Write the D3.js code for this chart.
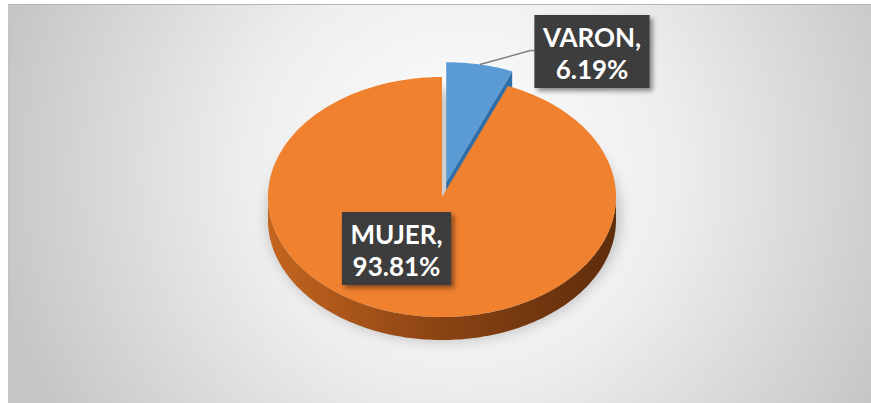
<!DOCTYPE html>
<html>
<head>
<meta charset="utf-8">
<script src="https://cdn.jsdelivr.net/npm/d3@7"></script>
<style>
  html, body { margin: 0; padding: 0; background: #fff; }
  svg { display: block; }
</style>
</head>
<body>
<div id="chart"></div>
<script>
// 数据
const categories = ["VARON", "MUJER"];
const values = [6.19, 93.81];
const sliceColors = ["#5b9bd5", "#f0812f"];
const sideColors = ["#2f6ea8", "#8a4313"];

const W = 871, H = 403;

// 饼图几何 (3D 椭圆)
const cx = 442, cy = 197, rx = 174, ry = 120, depth = 23;
const explode = 0.125;

const svg = d3.select("#chart").append("svg")
  .attr("width", W)
  .attr("height", H);

const defs = svg.append("defs");

// 背景渐变
const bg = defs.append("radialGradient")
  .attr("id", "bgGrad")
  .attr("gradientUnits", "userSpaceOnUse")
  .attr("cx", 460).attr("cy", 170).attr("r", 470);
bg.append("stop").attr("offset", 0).attr("stop-color", "#ffffff");
bg.append("stop").attr("offset", 0.45).attr("stop-color", "#eeeeee");
bg.append("stop").attr("offset", 1).attr("stop-color", "#c6c6c6");

// 侧面渐变
const rim = defs.append("linearGradient")
  .attr("id", "rimGrad")
  .attr("gradientUnits", "userSpaceOnUse")
  .attr("x1", cx - rx).attr("x2", cx + rx).attr("y1", 0).attr("y2", 0);
rim.append("stop").attr("offset", 0).attr("stop-color", "#c4651f");
rim.append("stop").attr("offset", 0.5).attr("stop-color", "#8a4313");
rim.append("stop").attr("offset", 1).attr("stop-color", "#5e2d0b");

// 阴影滤镜
const blur = defs.append("filter").attr("id", "pieShadow")
  .attr("x", "-20%").attr("y", "-20%").attr("width", "140%").attr("height", "140%");
blur.append("feGaussianBlur").attr("stdDeviation", 6);

const lblShadow = defs.append("filter").attr("id", "lblShadow")
  .attr("x", "-20%").attr("y", "-20%").attr("width", "150%").attr("height", "150%");
lblShadow.append("feDropShadow")
  .attr("dx", 3).attr("dy", 3).attr("stdDeviation", 2.5)
  .attr("flood-color", "#000").attr("flood-opacity", 0.45);

// 标签底纹
const pat = defs.append("pattern").attr("id", "dots")
  .attr("patternUnits", "userSpaceOnUse")
  .attr("width", 4).attr("height", 4);
pat.append("rect").attr("width", 4).attr("height", 4).attr("fill", "#3a3a3a");
pat.append("circle").attr("cx", 1).attr("cy", 1).attr("r", 0.7).attr("fill", "#4c4c4c");
pat.append("circle").attr("cx", 3).attr("cy", 3).attr("r", 0.7).attr("fill", "#444");

// 背景
svg.append("rect").attr("x", 8).attr("y", 4)
  .attr("width", W - 8).attr("height", H - 4)
  .attr("fill", "url(#bgGrad)");
svg.append("line").attr("x1", 8).attr("x2", W).attr("y1", 4.5).attr("y2", 4.5)
  .attr("stroke", "#b4b4b4");
svg.append("line").attr("x1", 8.5).attr("x2", 8.5).attr("y1", 4).attr("y2", H)
  .attr("stroke", "#c2c2c2");

// 比例尺: 单位圆 -> 屏幕
const x = d3.scaleLinear().domain([-1, 1]).range([cx - rx, cx + rx]);
const y = d3.scaleLinear().domain([-1, 1]).range([cy + ry, cy - ry]);

const data = categories.map((c, i) => ({ name: c, value: values[i] }));
const pie = d3.pie().sort(null).value(d => d.value);
const arcs = pie(data);
const total = d3.sum(values);
const color = d3.scaleOrdinal().domain(categories).range(sliceColors);
const side = d3.scaleOrdinal().domain(categories).range(sideColors);

arcs.forEach((a, i) => {
  const mid = (a.startAngle + a.endAngle) / 2;
  const e = i === 0 ? explode : 0;
  a.ox = e * Math.sin(mid);
  a.oy = e * Math.cos(mid);
});

function pt(a, ang, r, dz) {
  return [x(a.ox + r * Math.sin(ang)), y(a.oy + r * Math.cos(ang)) + (dz || 0)];
}

function arcPoints(a, a0, a1, dz) {
  const n = Math.max(2, Math.ceil((a1 - a0) / 0.02));
  return d3.range(n + 1).map(k => pt(a, a0 + (a1 - a0) * k / n, 1, dz));
}

const line = d3.line();
const g = svg.append("g");

// 饼的阴影
g.append("ellipse")
  .attr("cx", cx + 2).attr("cy", cy + depth / 2 + 8)
  .attr("rx", rx + 4).attr("ry", ry + 6)
  .attr("fill", "#7a7a7a").attr("opacity", 0.35)
  .attr("filter", "url(#pieShadow)");

function drawSlice(a) {
  const name = a.data.name;
  // 切面 (朝向观者的一侧)
  const faces = [];
  if (Math.sin(a.endAngle) > 0 && a.endAngle < Math.PI) faces.push(a.endAngle);
  if (Math.sin(a.startAngle) < 0) faces.push(a.startAngle);
  faces.forEach(ang => {
    const c = pt(a, 0, 0), r = pt(a, ang, 1);
    g.append("path")
      .attr("d", line([c, r, [r[0], r[1] + depth], [c[0], c[1] + depth]]) + "Z")
      .attr("fill", side(name));
  });
  // 外侧面
  const s0 = Math.max(a.startAngle, Math.PI / 2);
  const s1 = Math.min(a.endAngle, Math.PI * 1.5);
  if (s1 > s0) {
    const top = arcPoints(a, s0, s1, 0);
    const bot = arcPoints(a, s0, s1, depth).reverse();
    g.append("path")
      .attr("d", line(top.concat(bot)) + "Z")
      .attr("fill", name === "MUJER" ? "url(#rimGrad)" : side(name));
  }
  // 顶面
  const pts = [pt(a, 0, 0)].concat(arcPoints(a, a.startAngle, a.endAngle, 0));
  g.append("path")
    .attr("d", line(pts) + "Z")
    .attr("fill", color(name));
}

// 先画后面的切片
arcs.forEach(drawSlice);

// 标签
const fmt = d3.format(".2%");
const labelPos = { VARON: [592, 15], MUJER: [396.5, 212] };
const boxH = 73, lineGap = 32;

arcs.forEach(a => {
  const name = a.data.name;
  const [lx, ly] = labelPos[name];
  const lines = [name + ",", fmt(a.data.value / total)];

  const lg = svg.append("g");
  const box = lg.append("rect")
    .attr("fill", "url(#dots)")
    .attr("filter", "url(#lblShadow)");
  const txt = lg.append("text")
    .attr("text-anchor", "middle")
    .attr("fill", "#fff")
    .style("font-family", "Lato, 'Open Sans', sans-serif")
    .style("font-weight", "bold")
    .style("font-size", "26px");
  lines.forEach((t, k) => {
    txt.append("tspan").attr("x", lx).attr("y", ly + 32 + k * lineGap).text(t);
  });
  const w = d3.max(txt.selectAll("tspan").nodes(), n => n.getComputedTextLength()) + 17;
  box.attr("x", lx - w / 2).attr("y", ly).attr("width", w).attr("height", boxH);

  // 引导线
  if (a.ox !== 0) {
    const mid = (a.startAngle + a.endAngle) / 2;
    const s = pt(a, mid, 1);
    const bx = lx - w / 2;
    svg.insert("polyline", "g + g")
      .attr("points", [s, [bx - 4, ly + boxH / 2 - 1], [bx, ly + boxH / 2 - 1]].join(" "))
      .attr("fill", "none")
      .attr("stroke", "#7f7f7f")
      .attr("stroke-width", 1.5);
  }
});
</script>
</body>
</html>
